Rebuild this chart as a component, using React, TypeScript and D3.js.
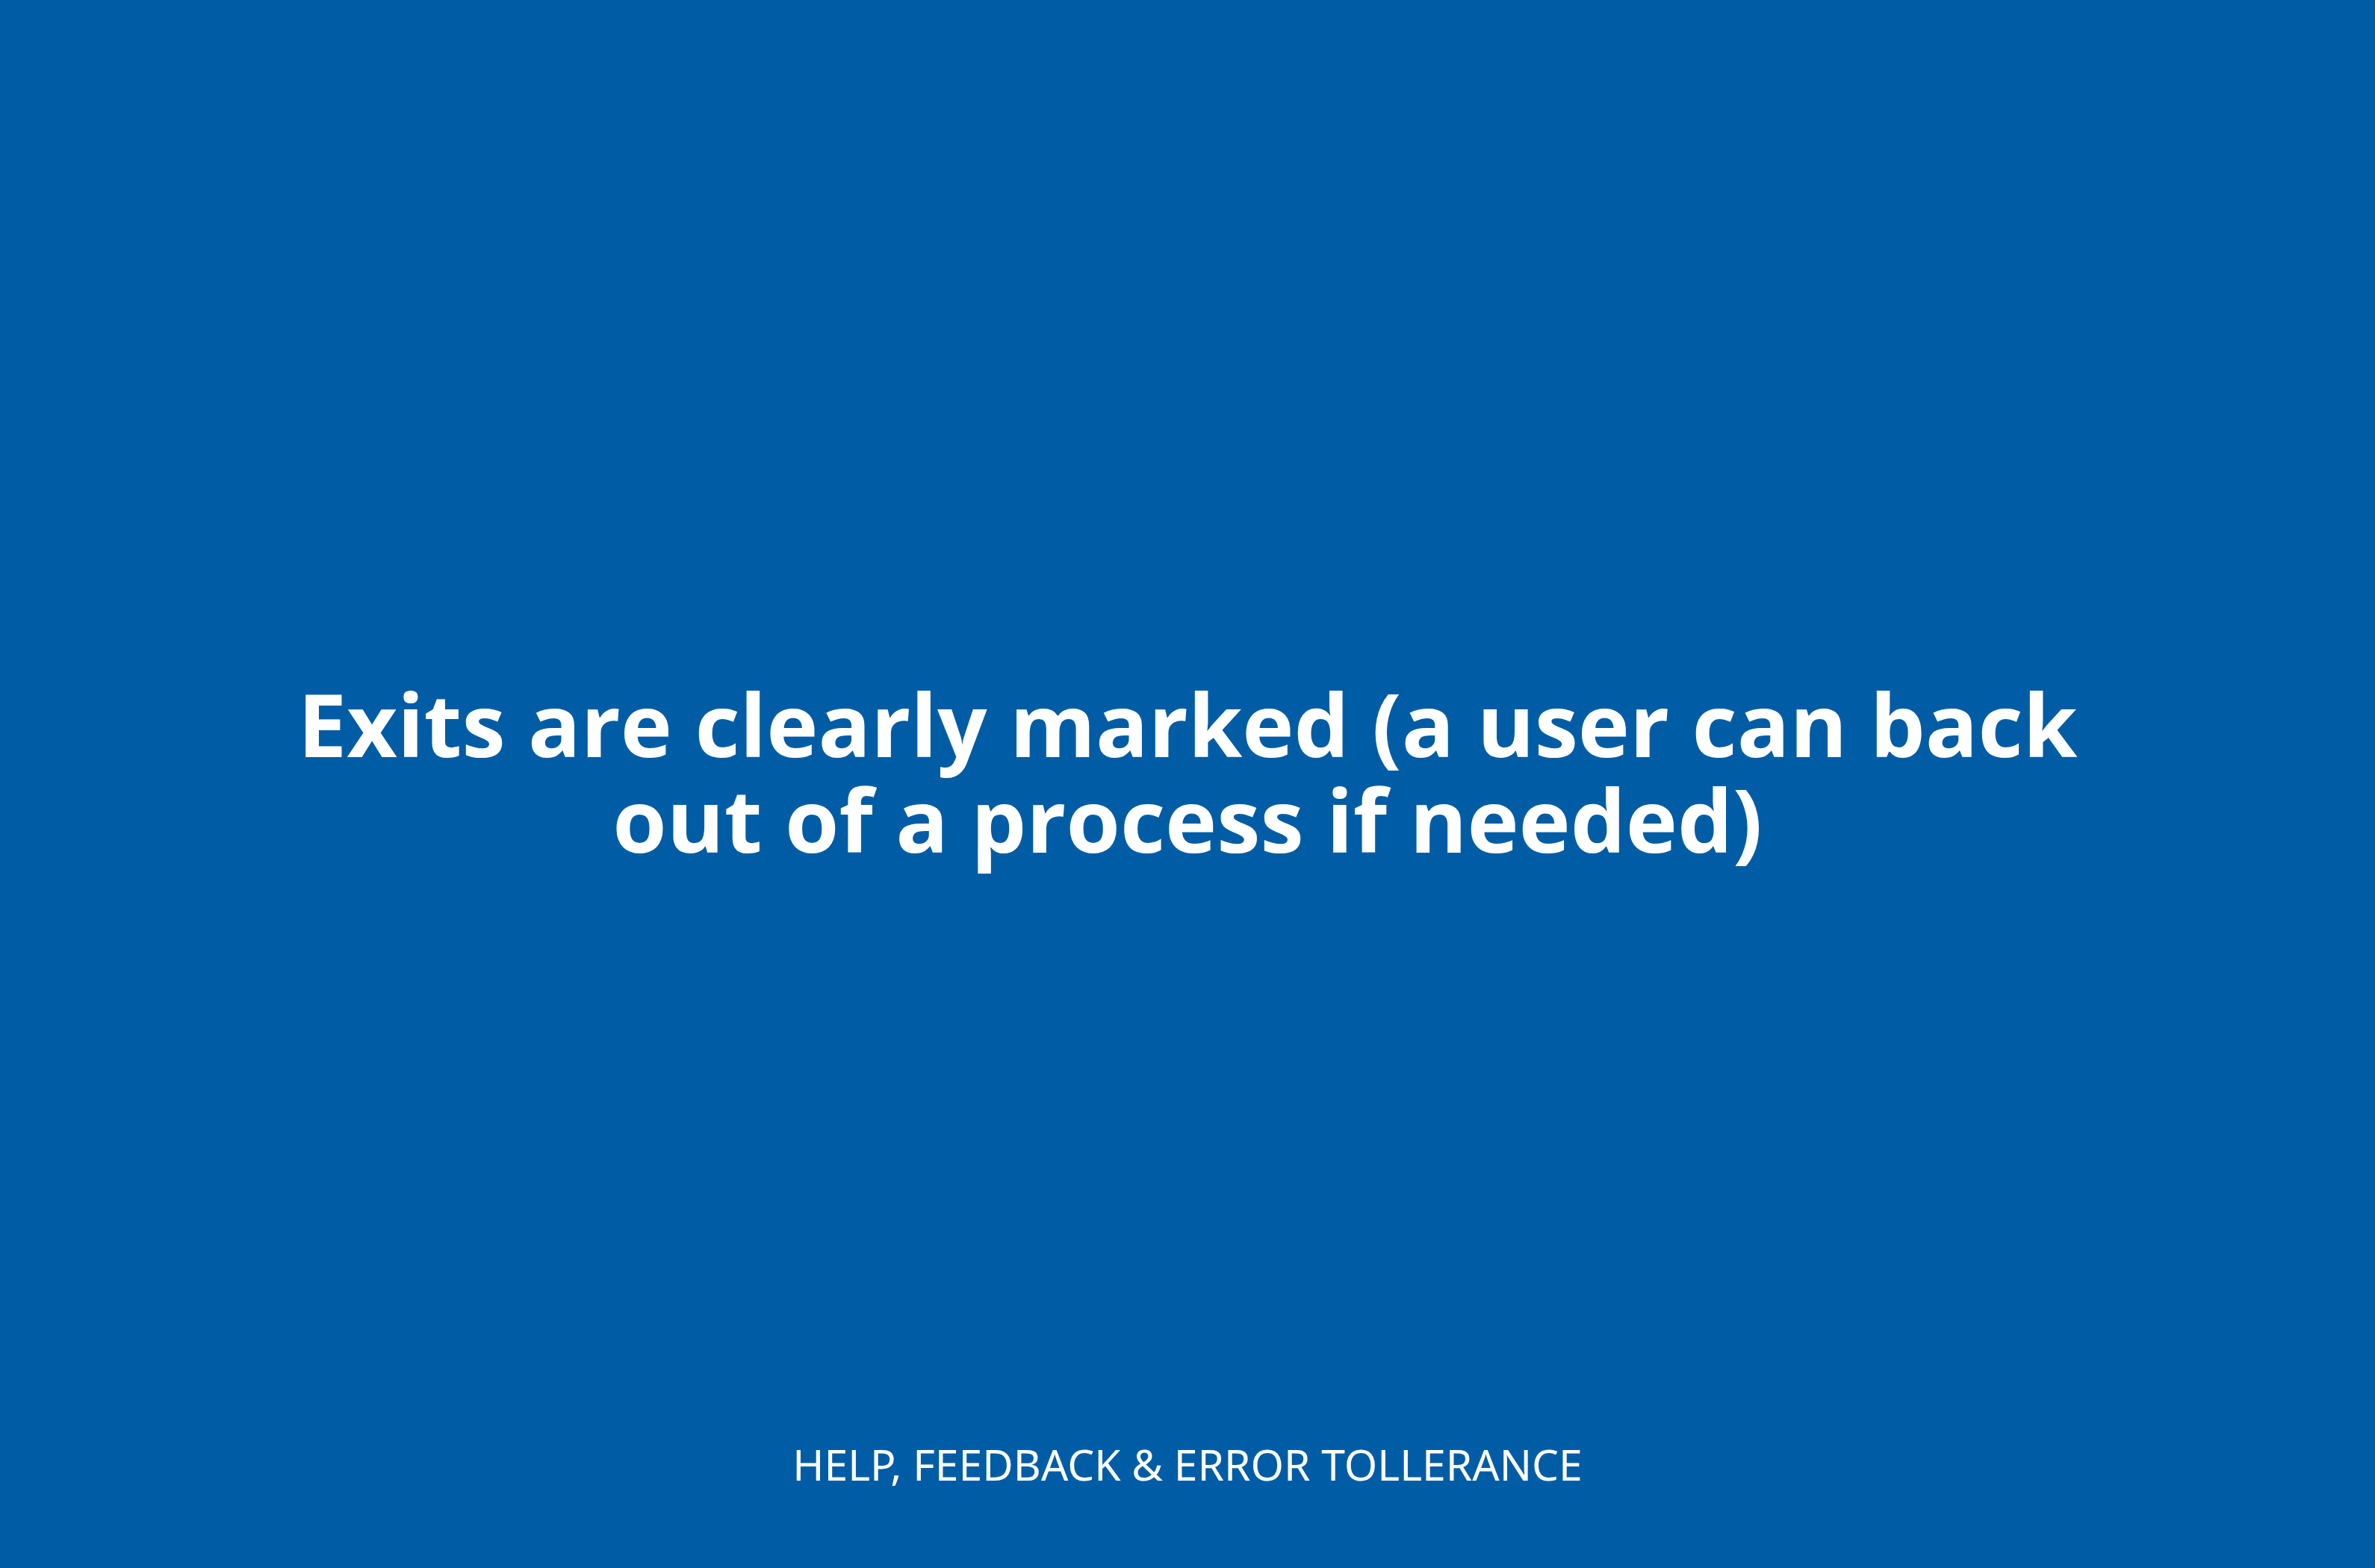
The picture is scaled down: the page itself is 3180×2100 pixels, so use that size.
import { useEffect, useRef } from 'react';
import * as d3 from 'd3';

const titleLines = ['Exits are clearly marked (a user can back', 'out of a process if needed)'];
const footerLabel = ['HELP, FEEDBACK & ERROR TOLLERANCE'];

const App = () => {
  const svgRef = useRef<SVGSVGElement>(null);

  useEffect(() => {
    const width = 3180;
    const height = 2100;
    const svg = d3.select(svgRef.current);
    svg.selectAll('*').remove();
    svg.attr('viewBox', `0 0 ${width} ${height}`);

    svg.append('rect').attr('width', width).attr('height', height).attr('fill', '#005DA5');

    const y = d3.scaleLinear().domain([0, 1]).range([1014, 1142]);

    const title = svg
      .append('g')
      .selectAll('text')
      .data(titleLines)
      .enter()
      .append('text')
      .attr('x', width / 2)
      .attr('y', (_d, i) => y(i))
      .attr('text-anchor', 'middle')
      .attr('fill', '#ffffff')
      .style('font-family', '"Open Sans", sans-serif')
      .style('font-weight', 700)
      .style('font-size', '110px')
      .text((d) => d);

    // fit the first line to the width seen in the reference
    const first = title.nodes()[0] as SVGTextElement;
    const measured = first.getComputedTextLength();
    if (measured > 0) {
      const size = Math.min(125, Math.max(95, (110 * 2383) / measured));
      title.style('font-size', `${size}px`);
    }

    svg
      .append('text')
      .attr('x', width / 2)
      .attr('y', 1983)
      .attr('text-anchor', 'middle')
      .attr('fill', '#ffffff')
      .style('font-family', '"Noto Sans", sans-serif')
      .style('font-size', '57px')
      .text(footerLabel[0]);
  }, []);

  return (
    <svg
      ref={svgRef}
      width={3180}
      height={2100}
      style={{ position: 'fixed', left: 0, top: 0, display: 'block' }}
    />
  );
};

export default App;
